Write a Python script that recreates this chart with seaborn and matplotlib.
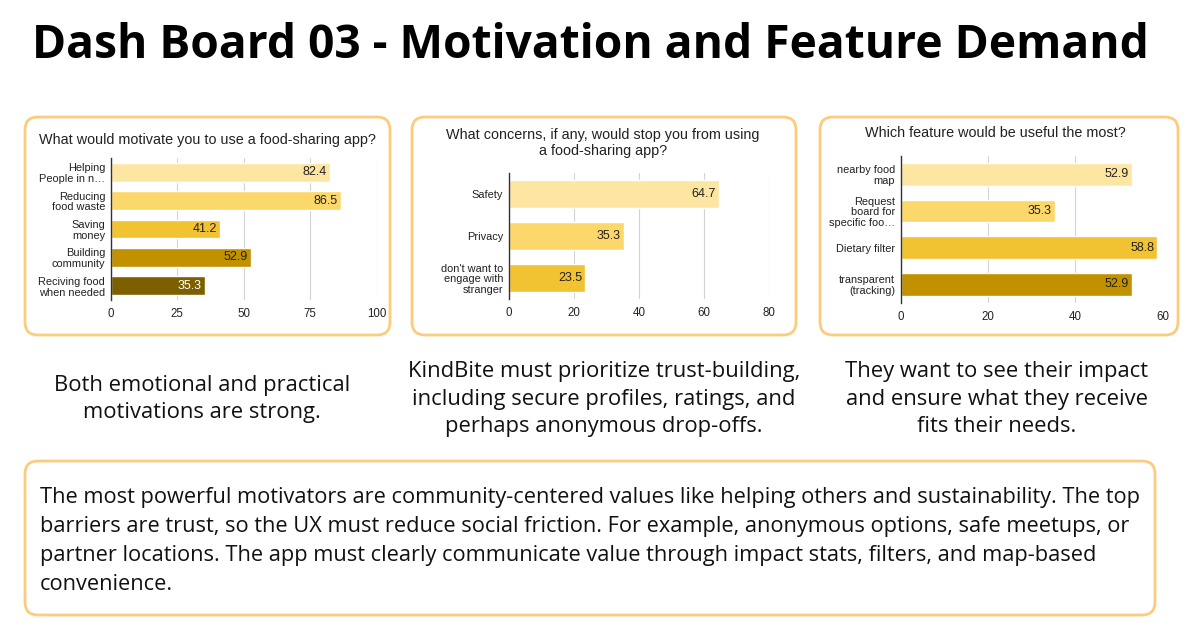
import numpy as np
import pandas as pd
import matplotlib
matplotlib.use("Agg")
import matplotlib.pyplot as plt
from matplotlib.patches import FancyBboxPatch
import seaborn as sns

# data
motiv_labels = ["Helping\nPeople in n…", "Reducing\nfood waste", "Saving\nmoney",
                "Building\ncommunity", "Reciving food\nwhen needed"]
motiv_values = [82.4, 86.5, 41.2, 52.9, 35.3]

concern_labels = ["Safety", "Privacy", "don't want to\nengage with\nstranger"]
concern_values = [64.7, 35.3, 23.5]

feature_labels = ["nearby food\nmap", "Request\nboard for\nspecific foo…",
                  "Dietary filter", "transparent\n(tracking)"]
feature_values = [52.9, 35.3, 58.8, 52.9]

palette = ["#FDE6A2", "#FCD86C", "#F1C232", "#C29100", "#7E5F00"]

W, H = 1200, 643
BORDER = "#FDCB7E"
CHART_FONT = "Liberation Sans"
TEXT_FONT = "Open Sans"

sns.set_theme(style="white")
plt.rcParams["font.family"] = [CHART_FONT, "DejaVu Sans"]

fig = plt.figure(figsize=(W / 100, H / 100), dpi=100)
fig.patch.set_facecolor("white")

# background layer in pixel coordinates
bg = fig.add_axes([0, 0, 1, 1], zorder=0)
bg.set_xlim(0, W)
bg.set_ylim(H, 0)
bg.axis("off")


def box(x0, y0, x1, y1):
    p = FancyBboxPatch((x0, y0), x1 - x0, y1 - y0,
                       boxstyle="round,pad=0,rounding_size=13",
                       fc="white", ec=BORDER, lw=2)
    bg.add_patch(p)


def px_axes(left, top, right, bottom):
    return fig.add_axes([left / W, 1 - bottom / H, (right - left) / W, (bottom - top) / H], zorder=2)


def hbar(ax, labels, values, xmax, step, width, title_lines, title_xy):
    df = pd.DataFrame({"label": labels, "value": values})
    sns.barplot(data=df, x="value", y="label", hue="label", palette=palette[:len(labels)],
                orient="h", width=width, legend=False, ax=ax, saturation=1)
    ax.set_xlim(0, xmax)
    ax.set_xticks(np.arange(0, xmax + 1, step))
    ax.set_xlabel("")
    ax.set_ylabel("")
    ax.set_facecolor("none")
    for s in ["top", "right", "bottom"]:
        ax.spines[s].set_visible(False)
    ax.spines["left"].set_color("#333333")
    ax.spines["left"].set_linewidth(1)
    ax.grid(axis="x", color="#D3D3D3", lw=0.8)
    ax.set_axisbelow(True)
    ax.tick_params(axis="both", length=0, labelsize=8.3, colors="#222222")
    ax.tick_params(axis="x", pad=6)
    ax.tick_params(axis="y", pad=4)
    for lab in ax.get_yticklabels():
        lab.set_fontsize(7.9)
        lab.set_linespacing(1.1)
    for i, v in enumerate(values):
        col = "white" if palette[i] == "#7E5F00" else "#222222"
        ax.text(v - xmax * 0.012, i, f"{v}", ha="right", va="center",
                fontsize=9, color=col)
    bg.text(title_xy[0], title_xy[1], title_lines, ha="center", va="center",
            fontsize=10.4, color="#222222", family=CHART_FONT, linespacing=1.1)


# title
bg.text(590, 45, "Dash Board 03 - Motivation and Feature Demand", ha="center", va="center",
        fontsize=33.2, fontweight="bold", family=TEXT_FONT, color="black")

# panels
box(25, 117, 390, 335)
box(412, 117, 796, 335)
box(820, 117, 1178, 335)
box(25, 461, 1155, 615)

ax1 = px_axes(110.7, 158, 376.7, 300)
hbar(ax1, motiv_labels, motiv_values, 100, 25, 0.66,
     "What would motivate you to use a food-sharing app?", (207, 140))

ax2 = px_axes(508.7, 173, 769, 299)
hbar(ax2, concern_labels, concern_values, 80, 20, 0.65,
     "What concerns, if any, would stop you from using\na food-sharing app?", (603, 143))

ax3 = px_axes(900.7, 156, 1162.7, 302.5)
hbar(ax3, feature_labels, feature_values, 60, 20, 0.62,
     "Which feature would be useful the most?", (995, 133))

# captions
cap_kw = dict(ha="center", va="center", fontsize=15.8, family=TEXT_FONT,
              color="#111111", linespacing=1.42)
bg.text(202, 399, "Both emotional and practical\nmotivations are strong.", **cap_kw)
bg.text(604, 399, "KindBite must prioritize trust-building,\nincluding secure profiles, ratings, and\nperhaps anonymous drop-offs.", **cap_kw)
bg.text(997, 399, "They want to see their impact\nand ensure what they receive\nfits their needs.", **cap_kw)

summary = ("The most powerful motivators are community-centered values like helping others and sustainability. The top\n"
           "barriers are trust, so the UX must reduce social friction. For example, anonymous options, safe meetups, or\n"
           "partner locations. The app must clearly communicate value through impact stats, filters, and map-based\n"
           "convenience.")
bg.text(40, 541, summary, ha="left", va="center", fontsize=15.7, family=TEXT_FONT,
        color="#111111", linespacing=1.52)

fig.savefig("out.png", dpi=100, facecolor="white")
